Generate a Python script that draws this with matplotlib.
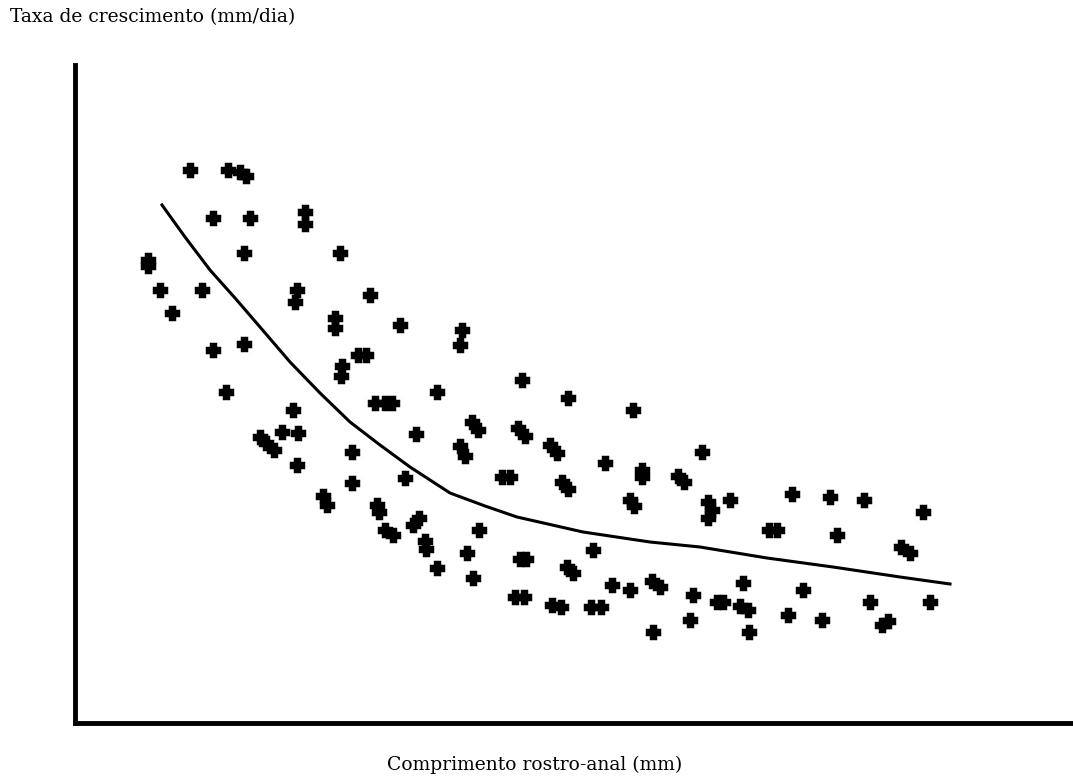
import matplotlib
matplotlib.use("Agg")
import matplotlib.pyplot as plt

# ── Data ─────────────────────────────────────────────────────────────────────
# comprimento rostro-anal (x) vs taxa de crescimento (y); arbitrary units
length = [
    11.5, 15.3, 16.5, 17.1, 13.8, 17.5, 23.0, 23.0, 16.9, 26.5,
    7.3, 7.3, 8.5, 12.7, 22.2, 22.0, 29.5, 9.7, 26.0, 26.0,
    32.5, 38.7, 38.5, 13.8, 16.9, 28.3, 29.1, 26.7, 26.6, 15.1,
    30.0, 31.0, 31.7, 36.2, 21.8, 44.7, 49.3, 55.8, 39.7, 40.3,
    44.3, 45.0, 34.1, 18.5, 19.1, 19.9, 20.7, 22.3, 38.5, 39.0,
    47.5, 48.2, 27.7, 22.2, 53.0, 56.7, 56.7, 60.3, 60.9, 62.7,
    42.7, 43.5, 33.0, 27.7, 48.7, 49.3, 24.8, 25.2, 55.5, 55.9,
    30.2, 30.4, 31.0, 31.8, 33.8, 34.4, 40.4, 35.0, 35.1, 39.2,
    51.8, 44.5, 45.1, 49.2, 49.8, 36.2, 39.8, 53.7, 55.5, 57.7,
    58.5, 61.8, 44.0, 44.9, 47.7, 48.6, 51.6, 52.6, 61.5, 57.8,
    63.3, 65.5, 63.3, 63.7, 71.7, 75.5, 78.9, 84.8, 69.4, 70.2,
    76.2, 82.6, 83.5, 66.8, 64.2, 64.8, 66.5, 67.3, 72.8, 71.3,
    79.5, 85.5, 74.7, 67.4, 80.7, 81.3,
]
growth = [
    5.53, 5.53, 5.51, 5.47, 5.05, 5.05, 5.11, 4.99, 4.70, 4.70,
    4.63, 4.57, 4.33, 4.33, 4.33, 4.21, 4.28, 4.10, 4.05, 3.95,
    3.98, 3.93, 3.78, 3.73, 3.79, 3.68, 3.68, 3.57, 3.47, 3.31,
    3.20, 3.20, 3.20, 3.31, 3.13, 3.43, 3.25, 3.13, 3.01, 2.93,
    2.95, 2.87, 2.89, 2.86, 2.80, 2.73, 2.91, 2.90, 2.77, 2.67,
    2.78, 2.70, 2.71, 2.58, 2.60, 2.53, 2.46, 2.47, 2.41, 2.71,
    2.46, 2.46, 2.45, 2.40, 2.41, 2.34, 2.27, 2.18, 2.23, 2.17,
    2.18, 2.11, 1.93, 1.88, 1.98, 2.05, 1.93, 1.82, 1.74, 1.70,
    1.73, 1.64, 1.64, 1.56, 1.50, 1.55, 1.45, 1.38, 1.33, 1.42,
    1.36, 1.28, 1.26, 1.26, 1.18, 1.16, 1.16, 1.16, 1.03, 0.91,
    2.21, 2.23, 2.05, 2.13, 2.29, 2.26, 2.23, 2.11, 1.93, 1.93,
    1.88, 1.76, 1.70, 1.40, 1.21, 1.21, 1.17, 1.13, 1.33, 1.08,
    1.21, 1.21, 1.03, 0.91, 0.98, 1.02,
]

# fitted curve
fit_x = [8.7, 11.0, 13.5, 16.0, 18.5, 21.5, 24.5, 27.5, 30.5, 33.5,
         37.5, 41.0, 44.2, 50.8, 57.5, 62.5, 69.2, 75.8, 82.5, 87.5]
fit_y = [5.18, 4.86, 4.53, 4.25, 3.96, 3.61, 3.30, 3.01, 2.78, 2.56,
         2.30, 2.17, 2.06, 1.91, 1.81, 1.76, 1.65, 1.56, 1.46, 1.39]

W, H = 1073, 784
fig = plt.figure(figsize=(W / 100, H / 100), dpi=100)
fig.patch.set_facecolor("white")

ax = fig.add_axes([75 / W, (H - 723) / H, (W - 75) / W, (723 - 65) / H])
ax.set_xlim(0, 99.8)
ax.set_ylim(0, 6.58)

ax.plot(length, growth, linestyle="none", marker="P", markersize=9,
        color="black", markeredgewidth=2.5)
ax.plot(fit_x, fit_y, color="black", lw=2.2)

for side in ("top", "right"):
    ax.spines[side].set_visible(False)
for side in ("left", "bottom"):
    ax.spines[side].set_linewidth(3.5)
    ax.spines[side].set_color("black")
ax.set_xticks([])
ax.set_yticks([])

serif = ["DejaVu Serif"]
fig.text(10 / W, 1 - 17 / H, "Taxa de crescimento (mm/dia)",
         ha="left", va="center", fontsize=13.5, family=serif)
fig.text(535 / W, 1 - 765 / H, "Comprimento rostro-anal (mm)",
         ha="center", va="center", fontsize=13.5, family=serif)

plt.savefig("out.png", dpi=100, facecolor="white")
